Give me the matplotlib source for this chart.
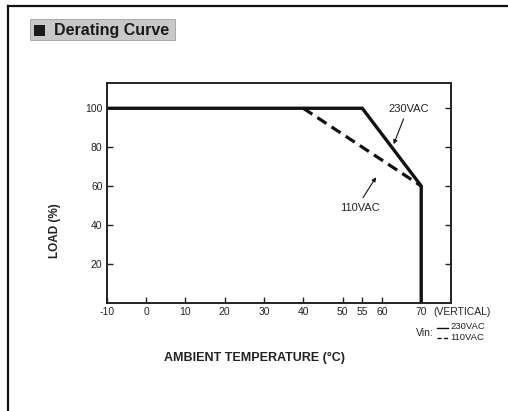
import matplotlib
matplotlib.use("Agg")
import matplotlib.pyplot as plt
from matplotlib.patches import Rectangle
from matplotlib.lines import Line2D
from matplotlib import font_manager

names = {f.name for f in font_manager.fontManager.ttflist}
FONT = ["Liberation Sans Narrow", "Liberation Sans", "DejaVu Sans"]
FONT = [f for f in FONT if f in names] or ["DejaVu Sans"]
plt.rcParams["font.family"] = FONT

# Data
temp_230 = [-10, 55, 70, 70]
load_230 = [100, 100, 60, 0]
temp_110 = [-10, 40, 70, 70]
load_110 = [100, 100, 60, 0]
x_ticks = [-10, 0, 10, 20, 30, 40, 50, 55, 60, 70]
y_ticks = [20, 40, 60, 80, 100]

W, H = 508, 411
fig = plt.figure(figsize=(W / 100, H / 100), dpi=100)

def fx(px):
    return px / W

def fy(py):
    return 1 - py / H

# outer frame (left and top lines)
fig.add_artist(Line2D([fx(7.5), fx(7.5)], [fy(6), fy(411)], color="#111", lw=1.6))
fig.add_artist(Line2D([fx(7.5), fx(508)], [fy(6), fy(6)], color="#111", lw=1.6))

# title box
fig.add_artist(Rectangle((fx(29.5), fy(40.5)), fx(175) - fx(29.5), fy(19.5) - fy(40.5),
                         facecolor="#c8c8c8", edgecolor="#a0a0a0", lw=0.6))
fig.add_artist(Rectangle((fx(33.5), fy(36.5)), fx(45) - fx(33.5), fy(25) - fy(36.5),
                         facecolor="#1a1a1a", edgecolor="none"))
fig.text(fx(54), fy(31), "Derating Curve", fontsize=11.5, fontweight="bold",
         color="#1a1a1a", ha="left", va="center")

ax = fig.add_axes([fx(106.7), fy(302.6), fx(450.7) - fx(106.7), fy(83) - fy(302.6)])
ax.set_xlim(-10, 77.5)
ax.set_ylim(0, 113)

# 110VAC differs from 230VAC only on its derating slope; draw that part dashed
ax.plot(temp_110[1:3], load_110[1:3], color="#111", lw=2.3, linestyle=(0, (3.4, 1.9)),
        dash_capstyle="butt", clip_on=False)
ax.plot(temp_230, load_230, color="#111", lw=2.4, solid_joinstyle="miter",
        solid_capstyle="butt", clip_on=False)

for s in ax.spines.values():
    s.set_linewidth(1.4)
    s.set_color("#222")

ax.set_xticks(x_ticks)
ax.set_xticklabels([str(v) for v in x_ticks])
ax.set_yticks(y_ticks)
ax.set_yticklabels([str(v) for v in y_ticks])
ax.tick_params(axis="both", direction="in", length=4.5, width=1.0, labelsize=7.5,
               color="#222", labelcolor="#222")
ax.tick_params(axis="y", right=True, pad=3)
ax.tick_params(axis="x", pad=3)

# annotations
ax.annotate("", xy=(63.0, 81.5), xytext=(65.5, 94.5),
            arrowprops=dict(arrowstyle="-|>", color="#111", lw=0.8,
                            mutation_scale=6, shrinkA=0, shrinkB=0))
ax.text(66.8, 99.5, "230VAC", fontsize=8, ha="center", va="center", color="#222")
ax.annotate("", xy=(58.5, 64.5), xytext=(55.2, 54.0),
            arrowprops=dict(arrowstyle="-|>", color="#111", lw=0.8,
                            mutation_scale=6, shrinkA=0, shrinkB=0))
ax.text(54.4, 48.5, "110VAC", fontsize=8, ha="center", va="center", color="#222")

# side texts
fig.text(fx(462), fy(312), "(VERTICAL)", fontsize=7.5, ha="center", va="center", color="#222")
fig.text(fx(425), fy(333), "Vin:", fontsize=7.5, ha="center", va="center", color="#222")
fig.add_artist(Line2D([fx(437), fx(448)], [fy(328), fy(328)], color="#111", lw=1.0))
fig.add_artist(Line2D([fx(437), fx(448)], [fy(338), fy(338)], color="#111", lw=1.0,
                      linestyle=(0, (3, 1.6))))
fig.text(fx(450), fy(326.5), "230VAC", fontsize=6.8, ha="left", va="center", color="#222")
fig.text(fx(450), fy(337.5), "110VAC", fontsize=6.8, ha="left", va="center", color="#222")

fig.text(fx(55), fy(231), "LOAD (%)", fontsize=8.5, fontweight="bold", rotation=90,
         ha="center", va="center", color="#222")
fig.text(fx(254.5), fy(358), "AMBIENT TEMPERATURE (°C)", fontsize=9, fontweight="bold",
         ha="center", va="center", color="#222")

fig.savefig("out.png", dpi=100)
